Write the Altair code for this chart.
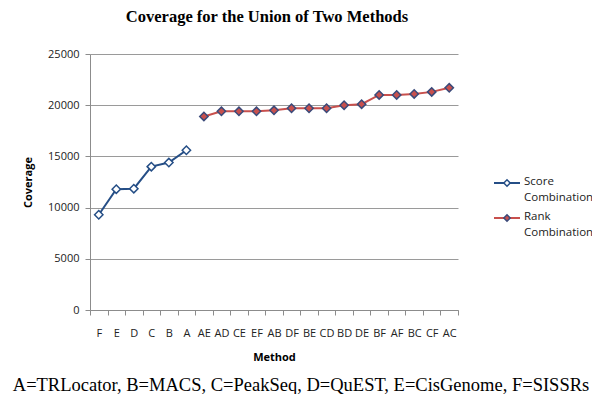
import altair as alt
import pandas as pd

score_methods = ["F", "E", "D", "C", "B", "A"]
score_values = [9300, 11800, 11850, 14000, 14400, 15600]
rank_methods = ["AE", "AD", "CE", "EF", "AB", "DF", "BE", "CD", "BD", "DE",
                "BF", "AF", "BC", "CF", "AC"]
rank_values = [18900, 19400, 19400, 19400, 19500, 19700, 19700, 19700, 20000,
               20100, 21000, 21000, 21100, 21300, 21700]
series_names = ["Score Combination", "Rank Combination"]
y_ticks = [0, 5000, 10000, 15000, 20000, 25000]
footnote = "A=TRLocator, B=MACS, C=PeakSeq, D=QuEST, E=CisGenome, F=SISSRs"

line_colors = ["#254E86", "#C8504D"]
fill_colors = ["white", "#C8504D"]
stroke_colors = ["#254E86", "#3a4a7a"]

order = score_methods + rank_methods
df = pd.DataFrame({
    "Method": score_methods + rank_methods,
    "Coverage": score_values + rank_values,
    "Series": [series_names[0]] * len(score_methods) + [series_names[1]] * len(rank_methods),
})

x = alt.X("Method:N", sort=order, title="Method",
          scale=alt.Scale(paddingInner=0, paddingOuter=0),
          axis=alt.Axis(labelAngle=0, tickBand="extent", labelFont="Open Sans",
                        labelFontSize=11, labelColor="#222", titleFont="Open Sans",
                        titleFontSize=11, titleFontWeight="bold", titlePadding=13,
                        domainColor="#8c8c8c", tickColor="#8c8c8c", tickSize=5,
                        labelPadding=12, grid=False))
y = alt.Y("Coverage:Q", title="Coverage",
          scale=alt.Scale(domain=[0, 25000]),
          axis=alt.Axis(values=y_ticks, format="d", labelFont="Open Sans",
                        labelFontSize=11, labelColor="#222", titleFont="Open Sans",
                        titleFontSize=11, titleFontWeight="bold", titlePadding=14,
                        domainColor="#8c8c8c", tickColor="#8c8c8c", tickSize=5,
                        gridColor="#9a9a9a", labelPadding=6))

color = alt.Color("Series:N", scale=alt.Scale(domain=series_names, range=line_colors),
                  legend=None)
fill = alt.Fill("Series:N", scale=alt.Scale(domain=series_names, range=fill_colors),
                legend=None)
stroke = alt.Stroke("Series:N", scale=alt.Scale(domain=series_names, range=stroke_colors),
                    legend=None)

lines = alt.Chart(df).mark_line(strokeWidth=2).encode(
    x=x, y=y, color=color, detail="Series:N")

points = alt.Chart(df).mark_point(shape="diamond", size=70, filled=False,
                                  strokeWidth=1.5, opacity=1).encode(
    x=x, y=y, fill=fill, stroke=stroke)

note = alt.Chart(pd.DataFrame({"t": [footnote]})).mark_text(
    font="Liberation Serif", fontSize=18.5, color="black", align="center",
    baseline="alphabetic").encode(
    text="t:N", x=alt.value(211), y=alt.value(337))

# manual legend (wrapped labels like the original)
legend_layers = []
leg_df = pd.DataFrame({"Series": series_names})
for i, name in enumerate(series_names):
    row_y = 129 + 35 * i
    base = alt.Chart(leg_df).transform_filter(alt.datum.Series == name)
    legend_layers.append(base.mark_rule(strokeWidth=2, color=line_colors[i]).encode(
        x=alt.value(404), x2=alt.value(430), y=alt.value(row_y)))
    legend_layers.append(base.mark_point(shape="diamond", size=40, filled=False,
                                         strokeWidth=1.5, opacity=1,
                                         fill=fill_colors[i],
                                         stroke=stroke_colors[i]).encode(
        x=alt.value(417), y=alt.value(row_y)))
    legend_layers.append(base.mark_text(font="Open Sans", fontSize=11.5, color="#222",
                                        align="left", baseline="top", lineBreak=" ",
                                        lineHeight=16).encode(
        text="Series:N", x=alt.value(434), y=alt.value(row_y - 7)))

chart = alt.layer(lines, points, note, *legend_layers).properties(
    width=368, height=256,
    title=alt.Title("Coverage for the Union of Two Methods", font="Liberation Serif",
                    fontSize=16.5, fontWeight="bold", color="black", offset=23, dx=-7),
    padding={"left": 82, "top": 46, "right": 134, "bottom": 84},
    autosize=alt.AutoSizeParams(type="none"),
).configure_view(stroke=None)

chart.save("out.html", embed_options={"renderer": "svg", "actions": False})
